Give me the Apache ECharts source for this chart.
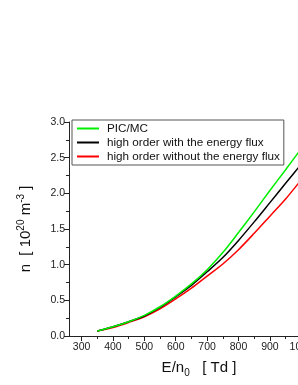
<!DOCTYPE html>
<html><head><meta charset="utf-8">
<script src="https://cdn.jsdelivr.net/npm/echarts@6/dist/echarts.min.js"></script>
<style>html,body{margin:0;padding:0;background:#fff}#c{width:298px;height:385px}</style>
</head><body><div id="c"></div>
<script>
var xValues = [350, 400, 450, 500, 550, 600, 650, 700, 750, 800, 850, 900, 950, 1000, 1050];
var picmc = [0.07, 0.13, 0.20, 0.29, 0.41, 0.56, 0.73, 0.93, 1.17, 1.45, 1.74, 2.04, 2.33, 2.63, 2.92];
var withFlux = [0.07, 0.13, 0.20, 0.28, 0.40, 0.55, 0.71, 0.90, 1.10, 1.34, 1.60, 1.87, 2.14, 2.41, 2.68];
var withoutFlux = [0.07, 0.12, 0.19, 0.27, 0.38, 0.52, 0.67, 0.84, 1.01, 1.21, 1.44, 1.68, 1.92, 2.19, 2.45];
var xTickLabels = [300, 400, 500, 600, 700, 800, 900, 1000];
var xMinorTicks = [350, 450, 550, 650, 750, 850, 950, 1050];
var names = ['PIC/MC', 'high order with the energy flux', 'high order without the energy flux'];

function pairs(ys){ return xValues.map(function(x,i){ return [x, ys[i]]; }); }

var font = 'Liberation Sans, Arial, sans-serif';
var chart = echarts.init(document.getElementById('c'), null, {renderer:'canvas'});
chart.setOption({
  animation: false,
  backgroundColor: '#fff',
  grid: {left: 69, top: 122, bottom: 49, width: 248, containLabel: false, outerBoundsMode: 'none'},
  legend: {
    data: names.map(function(n){ return {name: n, icon: 'rect'}; }),
    orient: 'vertical', left: 72, top: 120,
    itemWidth: 22, itemHeight: 2, itemGap: 1,
    padding: [2, 4, 2, 5],
    borderColor: '#555', borderWidth: 1, backgroundColor: '#fff',
    textStyle: {fontFamily: font, fontSize: 11.7, color: '#111', lineHeight: 13, padding: [0,0,0,3]}
  },
  xAxis: [{
    type: 'value', min: 260, max: 1050, position: 'bottom',
    axisLine: {lineStyle: {color: '#222', width: 1}},
    axisTick: {show: true, length: 5, inside: false, customValues: xTickLabels, lineStyle: {color: '#222'}},
    axisLabel: {customValues: xTickLabels, formatter: function(v){ return String(v); }, fontFamily: font, fontSize: 10.5, color: '#222', margin: 6},
    splitLine: {show: false},
    name: '{a|E/n}{sub|0}{a|   [ Td ]}', nameLocation: 'middle', nameGap: 22,
    nameTextStyle: {padding: [0, 0, 0, 12], rich: {
      a: {fontFamily: font, fontSize: 15, color: '#111'},
      sub: {fontFamily: font, fontSize: 10, color: '#111', padding: [10, 0, 0, 0]}
    }}
  }, {
    type: 'value', min: 260, max: 1050, position: 'bottom',
    axisLine: {show: false},
    axisTick: {show: true, length: 3, customValues: xMinorTicks, lineStyle: {color: '#222'}},
    axisLabel: {show: false}, splitLine: {show: false}
  }],
  yAxis: {
    type: 'value', min: 0, max: 3, interval: 0.5,
    axisLine: {show: true, lineStyle: {color: '#222', width: 1}},
    axisTick: {show: true, length: 5, lineStyle: {color: '#222'}},
    minorTick: {show: true, splitNumber: 2, length: 3, lineStyle: {color: '#222'}},
    axisLabel: {formatter: function(v){ return v.toFixed(1); }, fontFamily: font, fontSize: 10.5, color: '#222', margin: 4},
    splitLine: {show: false},
    name: '{a|n  [ 10}{sup|20}{a| m}{sup|-3}{a| ]}', nameLocation: 'middle', nameGap: 33, nameRotate: 90,
    nameTextStyle: {rich: {
      a: {fontFamily: font, fontSize: 15, color: '#111'},
      sup: {fontFamily: font, fontSize: 10, color: '#111', padding: [0, 0, 10, 0]}
    }}
  },
  series: [
    {name: names[2], type: 'line', data: pairs(withoutFlux), smooth: 0.3, symbol: 'none', z: 2,
     lineStyle: {color: '#ff0000', width: 1.5}, itemStyle: {color: '#ff0000'}},
    {name: names[1], type: 'line', data: pairs(withFlux), smooth: 0.3, symbol: 'none', z: 3,
     lineStyle: {color: '#000000', width: 1.5}, itemStyle: {color: '#000000'}},
    {name: names[0], type: 'line', data: pairs(picmc), smooth: 0.3, symbol: 'none', z: 4,
     lineStyle: {color: '#00ee00', width: 1.5}, itemStyle: {color: '#00ee00'}}
  ]
});
</script></body></html>
